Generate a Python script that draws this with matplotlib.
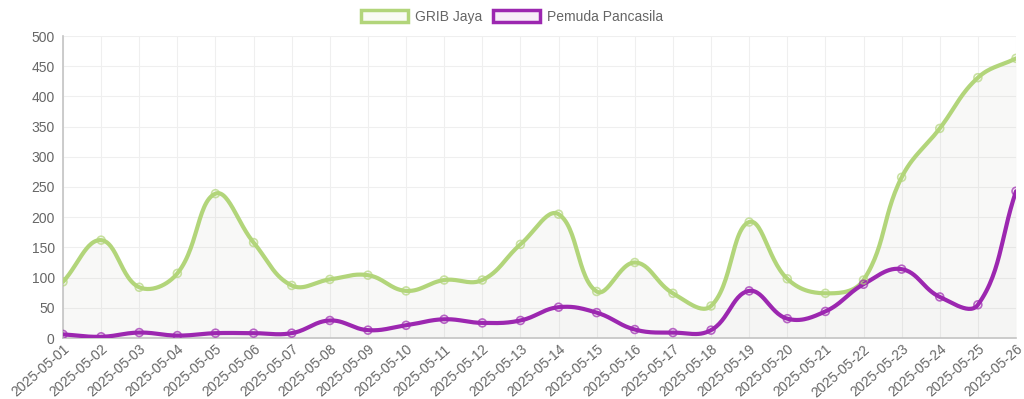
import numpy as np
import matplotlib
matplotlib.use("Agg")
import matplotlib.pyplot as plt
from matplotlib.patches import Patch

plt.rcParams['font.family'] = ['Liberation Sans', 'DejaVu Sans']

dates = ['2025-05-01', '2025-05-02', '2025-05-03', '2025-05-04', '2025-05-05',
         '2025-05-06', '2025-05-07', '2025-05-08', '2025-05-09', '2025-05-10',
         '2025-05-11', '2025-05-12', '2025-05-13', '2025-05-14', '2025-05-15',
         '2025-05-16', '2025-05-17', '2025-05-18', '2025-05-19', '2025-05-20',
         '2025-05-21', '2025-05-22', '2025-05-23', '2025-05-24', '2025-05-25',
         '2025-05-26']
grib = [93, 162, 84, 107, 239, 158, 87, 97, 104, 78, 96, 96, 155, 205, 77,
        125, 74, 53, 192, 98, 74, 96, 266, 347, 431, 463]
pemuda = [6, 2, 9, 4, 8, 8, 8, 29, 13, 21, 31, 25, 29, 51, 42, 14, 9, 13,
          78, 32, 44, 89, 114, 68, 55, 243]

GREEN = '#b2d57a'
PURPLE = '#9c27b0'

# pixel scale of the plot area, so the spline looks like chart.js tension 0.4
SX, SY = 38.12, 0.604


def spline(xs, ys, tension=0.4, n=30):
    xs = np.asarray(xs, float)
    ys = np.asarray(ys, float)
    px, py = xs * SX, ys * SY
    m = len(xs)
    cp_prev = np.zeros((m, 2))
    cp_next = np.zeros((m, 2))
    for i in range(m):
        a = max(i - 1, 0)
        b = min(i + 1, m - 1)
        d01 = np.hypot(px[i] - px[a], py[i] - py[a])
        d12 = np.hypot(px[b] - px[i], py[b] - py[i])
        tot = d01 + d12
        s01 = d01 / tot if tot else 0
        s12 = d12 / tot if tot else 0
        fa, fb = tension * s01, tension * s12
        cp_prev[i] = [px[i] - fa * (px[b] - px[a]), py[i] - fa * (py[b] - py[a])]
        cp_next[i] = [px[i] + fb * (px[b] - px[a]), py[i] + fb * (py[b] - py[a])]
    cp_prev[:, 1] = np.clip(cp_prev[:, 1], 0, 500 * SY)
    cp_next[:, 1] = np.clip(cp_next[:, 1], 0, 500 * SY)
    out_x, out_y = [], []
    t = np.linspace(0, 1, n)[:, None]
    for i in range(m - 1):
        p0 = np.array([px[i], py[i]])
        p1 = cp_next[i]
        p2 = cp_prev[i + 1]
        p3 = np.array([px[i + 1], py[i + 1]])
        seg = ((1 - t) ** 3) * p0 + 3 * ((1 - t) ** 2) * t * p1 + 3 * (1 - t) * t ** 2 * p2 + t ** 3 * p3
        out_x.extend(seg[:, 0] / SX)
        out_y.extend(seg[:, 1] / SY)
    return np.array(out_x), np.array(out_y)


fig = plt.figure(figsize=(10.24, 3.99), dpi=100)
ax = fig.add_axes([63 / 1024, 61 / 399, 953 / 1024, 302 / 399])

x = np.arange(len(dates))
for vals, col, fill in [(grib, GREEN, (0.4, 0.4, 0.3, 0.045)),
                        (pemuda, PURPLE, (0.5, 0.4, 0.5, 0.02))]:
    sx, sy = spline(x, vals)
    ax.fill_between(sx, 0, sy, color=fill, lw=0, zorder=1)
    ax.plot(sx, sy, color=col, lw=3, zorder=3, solid_capstyle='round')
    ax.scatter(x, vals, s=32, facecolors='none', edgecolors=col, linewidths=1.2,
               alpha=0.7, zorder=4)

ax.set_xlim(0, len(dates) - 1)
ax.set_ylim(0, 500)
ax.set_yticks(range(0, 501, 50))
ax.set_xticks(x)
ax.set_xticklabels(dates, rotation=41, ha='right', rotation_mode='anchor')
ax.tick_params(axis='y', colors='#666666', labelsize=10, length=0, pad=6)
ax.tick_params(axis='x', colors='#666666', labelsize=10, length=0, pad=3)
ax.grid(True, color='#efefef', lw=0.8, zorder=0)
ax.set_axisbelow(True)
for side in ['top', 'right']:
    ax.spines[side].set_visible(False)
ax.spines['left'].set_color('#c4c4c4')
ax.spines['bottom'].set_color('#c4c4c4')
ax.spines['left'].set_linewidth(1.2)
ax.spines['bottom'].set_linewidth(1.2)

handles = [Patch(facecolor=(0.7, 0.84, 0.48, 0.08), edgecolor=GREEN, lw=2.5, label='GRIB Jaya'),
           Patch(facecolor=(0.61, 0.15, 0.69, 0.08), edgecolor=PURPLE, lw=2.5, label='Pemuda Pancasila')]
fig.legend(handles=handles, loc='center', bbox_to_anchor=(0.5, 1 - 17 / 399), ncol=2,
           frameon=False, fontsize=10, labelcolor='#666666', handlelength=3.4,
           handleheight=1.0, columnspacing=0.8, handletextpad=0.5)

fig.savefig('out.png', dpi=100)
